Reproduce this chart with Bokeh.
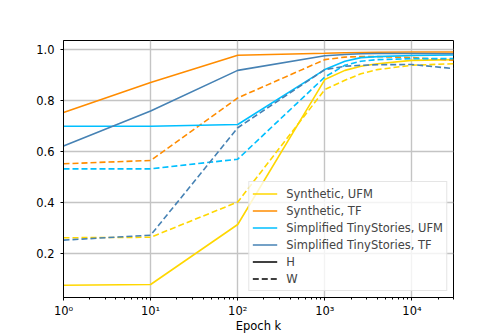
from bokeh.plotting import figure
from bokeh.models import Range1d, FixedTicker, Legend, LegendItem, PrintfTickFormatter
from bokeh.embed import file_html
from bokeh.resources import INLINE

# ---- data ----
epochs = [1, 10, 100, 1000, 1700, 2600, 4000, 10000, 30000]

syn_ufm_H = [0.076, 0.079, 0.314, 0.882, 0.918, 0.934, 0.944, 0.957, 0.960]
syn_ufm_W = [0.262, 0.264, 0.402, 0.843, 0.879, 0.905, 0.921, 0.938, 0.944]
syn_tf_H = [0.753, 0.870, 0.977, 0.985, 0.987, 0.988, 0.989, 0.990, 0.990]
syn_tf_W = [0.552, 0.565, 0.810, 0.960, 0.970, 0.972, 0.972, 0.968, 0.958]
ts_ufm_H = [0.699, 0.699, 0.706, 0.921, 0.954, 0.968, 0.972, 0.976, 0.978]
ts_ufm_W = [0.532, 0.532, 0.570, 0.892, 0.938, 0.954, 0.960, 0.964, 0.964]
ts_tf_H = [0.622, 0.759, 0.918, 0.975, 0.980, 0.983, 0.984, 0.984, 0.983]
ts_tf_W = [0.253, 0.272, 0.693, 0.921, 0.934, 0.938, 0.940, 0.941, 0.925]

series_names = ["Synthetic, UFM", "Synthetic, TF",
                "Simplified TinyStories, UFM", "Simplified TinyStories, TF"]
series_colors = ["#FFD700", "#FF8C00", "#00BFFF", "#4682B4"]
series_H = [syn_ufm_H, syn_tf_H, ts_ufm_H, ts_tf_H]
series_W = [syn_ufm_W, syn_tf_W, ts_ufm_W, ts_tf_W]

x_ticks = [1, 10, 100, 1000, 10000]
x_tick_labels = ["10\u2070", "10\u00b9", "10\u00b2", "10\u00b3", "10\u2074"]
x_minor = [m * 10 ** d for d in range(0, 5) for m in range(2, 10)]
y_ticks = [0.2, 0.4, 0.6, 0.8, 1.0]
x_title = "Epoch k"

FONT = "DejaVu Sans"
FS = "11.5px"
LW = 1.6
DASH = "6 3"
NAN = float("nan")

p = figure(width=503, height=335, x_axis_type="log",
           x_range=Range1d(1, 30000), y_range=Range1d(0.028, 1.035),
           output_backend="svg", toolbar_location=None,
           min_border_left=63, min_border_right=50,
           min_border_top=40, min_border_bottom=37)

p.background_fill_color = "white"
p.border_fill_color = "white"
p.outline_line_color = "black"
p.outline_line_width = 1
p.outline_line_alpha = 1

p.xaxis.ticker = FixedTicker(ticks=x_ticks, minor_ticks=x_minor)
p.xaxis.major_label_overrides = {float(t): l for t, l in zip(x_ticks, x_tick_labels)}
p.yaxis.ticker = FixedTicker(ticks=y_ticks, minor_ticks=[])
p.yaxis.formatter = PrintfTickFormatter(format="%.1f")

for ax in (p.xaxis, p.yaxis):
    ax.axis_line_color = "black"
    ax.major_tick_line_color = "black"
    ax.minor_tick_line_color = "black"
    ax.major_tick_in = 0
    ax.major_tick_out = 3
    ax.minor_tick_in = 0
    ax.minor_tick_out = 2
    ax.major_label_text_font = FONT
    ax.major_label_text_font_size = FS
    ax.major_label_text_color = "black"
p.xaxis.major_label_standoff = 3
p.yaxis.major_label_standoff = 6

p.xaxis.axis_label = x_title
p.xaxis.axis_label_text_font = FONT
p.xaxis.axis_label_text_font_size = FS
p.xaxis.axis_label_text_font_style = "normal"
p.xaxis.axis_label_text_color = "black"
p.xaxis.axis_label_standoff = -2

p.grid.grid_line_color = "#c4c4c4"
p.grid.grid_line_width = 1.4

h_renderers = []
for name, color, H, W in zip(series_names, series_colors, series_H, series_W):
    rh = p.line(epochs, H, line_color=color, line_width=LW)
    p.line(epochs, W, line_color=color, line_width=LW, line_dash=DASH)
    h_renderers.append(rh)

dummy_H = p.line(x=[NAN], y=[NAN], line_color="black", line_width=LW)
dummy_W = p.line(x=[NAN], y=[NAN], line_color="black", line_width=LW, line_dash=DASH)

items = [LegendItem(label=n, renderers=[r]) for n, r in zip(series_names, h_renderers)]
items.append(LegendItem(label="H", renderers=[dummy_H]))
items.append(LegendItem(label="W", renderers=[dummy_W]))

legend = Legend(items=items, location="bottom_right")
legend.label_text_font = FONT
legend.label_text_font_size = FS
legend.glyph_width = 25
legend.glyph_height = 17
legend.label_height = 17
legend.spacing = 0
legend.padding = 3
legend.margin = 6
legend.label_standoff = 9
legend.border_line_color = "#cccccc"
legend.border_line_width = 1
legend.background_fill_alpha = 0.8
p.add_layout(legend)

open("out.html", "w").write(file_html(p, INLINE))
